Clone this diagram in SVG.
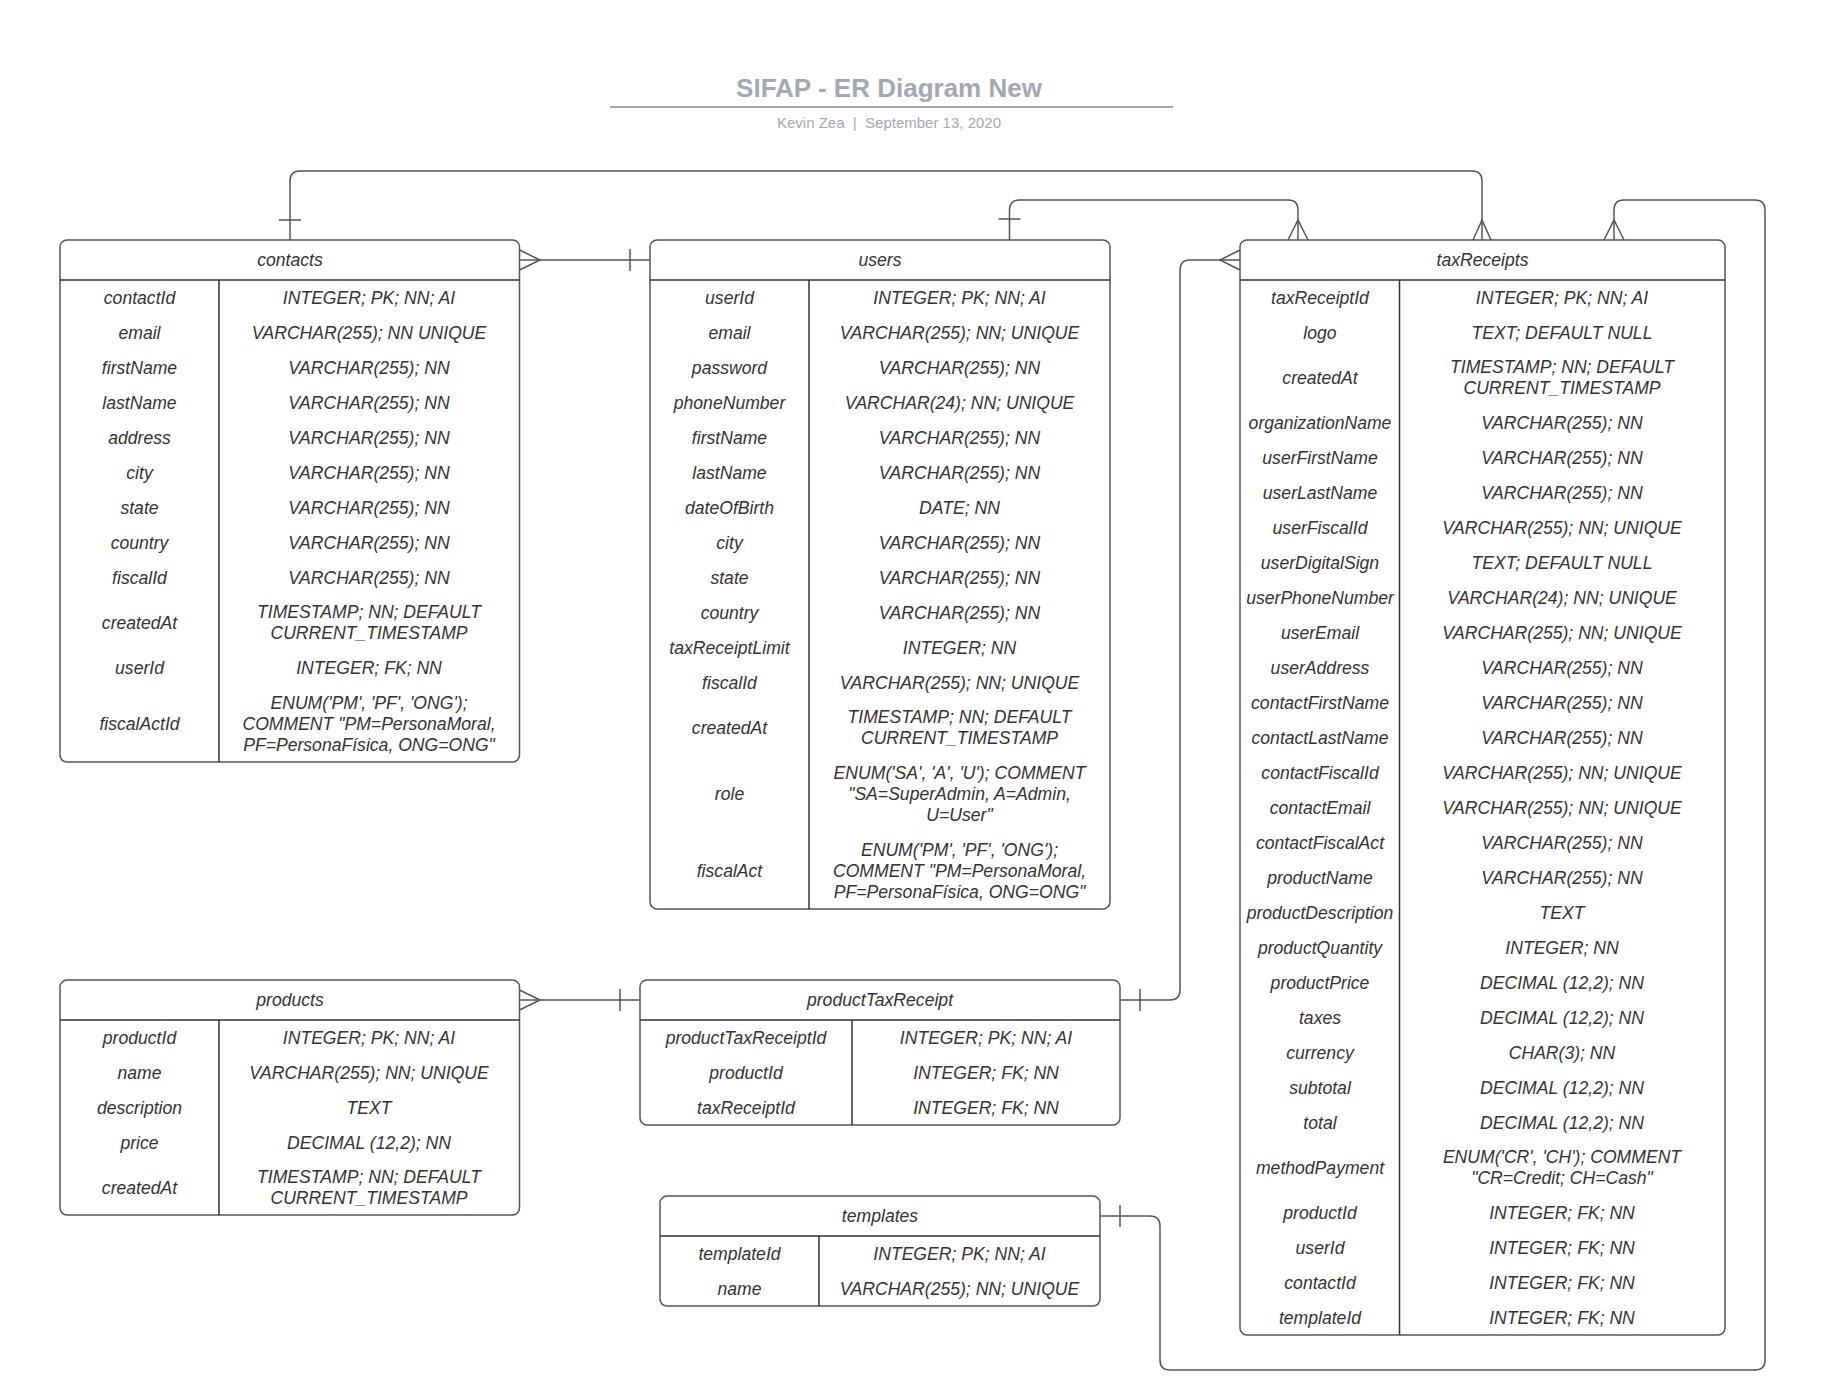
<svg xmlns="http://www.w3.org/2000/svg" width="1847" height="1398" viewBox="0 0 1847 1398">
<style>
.box{fill:#fff;stroke:#555;stroke-width:1.5}
.sep{stroke:#333;stroke-width:1.5;fill:none}
.t{font-family:"Liberation Sans",Arial,sans-serif;font-style:italic;font-size:17.6px;fill:#333;text-anchor:middle}
.con{fill:none;stroke:#555;stroke-width:1.5}
.title{font-family:"Liberation Sans",Arial,sans-serif;font-weight:bold;font-size:26px;fill:#a3a9b1;text-anchor:middle}
.sub{font-family:"Liberation Sans",Arial,sans-serif;font-size:15px;fill:#a3a9b1;text-anchor:middle}
</style>
<rect width="1847" height="1398" fill="#fff"/>
<g id="title">
<text class="title" x="889" y="97">SIFAP - ER Diagram New</text>
<line x1="610" y1="107" x2="1173" y2="107" stroke="#a0a6ae" stroke-width="2"/>
<text class="sub" x="889" y="128" xml:space="preserve">Kevin Zea  |  September 13, 2020</text>
</g>

<g id="connectors">
<path class="con" d="M290,240 V181 Q290,171 300,171 H1472 Q1482,171 1482,181 V240"/>
<path class="con" d="M279,220 H301"/>
<path class="con" d="M1473,240 L1482,220 L1491,240"/>

<path class="con" d="M1009.5,240 V210 Q1009.5,200 1019.5,200 H1288 Q1298,200 1298,210 V240"/>
<path class="con" d="M998.5,219 H1020.5"/>
<path class="con" d="M1288,240 L1298,220 L1308,240"/>

<path class="con" d="M519.5,260 H650"/>
<path class="con" d="M519.5,250 L540,260 L519.5,270"/>
<path class="con" d="M630,249 V271"/>

<path class="con" d="M519.5,1000 H640"/>
<path class="con" d="M519.5,990 L540,1000 L519.5,1010"/>
<path class="con" d="M620,989 V1011"/>

<path class="con" d="M1120,1000 H1170 Q1180,1000 1180,990 V270 Q1180,260 1190,260 H1240"/>
<path class="con" d="M1140,989 V1011"/>
<path class="con" d="M1240,250 L1220,260 L1240,270"/>

<path class="con" d="M1100,1216 H1150 Q1160,1216 1160,1226 V1360 Q1160,1370 1170,1370 H1755 Q1765,1370 1765,1360 V210 Q1765,200 1755,200 H1624 Q1614,200 1614,210 V240"/>
<path class="con" d="M1120,1205 V1227"/>
<path class="con" d="M1604,240 L1614,220 L1624,240"/>
</g>

<g id="contacts">
<rect class="box" x="60" y="240" width="459.5" height="522" rx="7"/>
<path class="sep" d="M60,280 H519.5 M219,280 V762"/>
<text class="t" x="290" y="266.3">contacts</text>
<text class="t" x="139.5" y="303.8">contactId</text><text class="t" x="369" y="303.8">INTEGER; PK; NN; AI</text>
<text class="t" x="139.5" y="338.8">email</text><text class="t" x="369" y="338.8">VARCHAR(255); NN UNIQUE</text>
<text class="t" x="139.5" y="373.8">firstName</text><text class="t" x="369" y="373.8">VARCHAR(255); NN</text>
<text class="t" x="139.5" y="408.8">lastName</text><text class="t" x="369" y="408.8">VARCHAR(255); NN</text>
<text class="t" x="139.5" y="443.8">address</text><text class="t" x="369" y="443.8">VARCHAR(255); NN</text>
<text class="t" x="139.5" y="478.8">city</text><text class="t" x="369" y="478.8">VARCHAR(255); NN</text>
<text class="t" x="139.5" y="513.8">state</text><text class="t" x="369" y="513.8">VARCHAR(255); NN</text>
<text class="t" x="139.5" y="548.8">country</text><text class="t" x="369" y="548.8">VARCHAR(255); NN</text>
<text class="t" x="139.5" y="583.8">fiscalId</text><text class="t" x="369" y="583.8">VARCHAR(255); NN</text>
<text class="t" x="139.5" y="628.8">createdAt</text><text class="t" x="369" y="618.3">TIMESTAMP; NN; DEFAULT</text><text class="t" x="369" y="639.3">CURRENT_TIMESTAMP</text>
<text class="t" x="139.5" y="673.8">userId</text><text class="t" x="369" y="673.8">INTEGER; FK; NN</text>
<text class="t" x="139.5" y="729.8">fiscalActId</text><text class="t" x="369" y="708.8">ENUM('PM', 'PF', 'ONG');</text><text class="t" x="369" y="729.8">COMMENT "PM=PersonaMoral,</text><text class="t" x="369" y="750.8">PF=PersonaFísica, ONG=ONG"</text>
</g>

<g id="users">
<rect class="box" x="650" y="240" width="460" height="669" rx="7"/>
<path class="sep" d="M650,280 H1110 M809,280 V909"/>
<text class="t" x="880" y="266.3">users</text>
<text class="t" x="729.5" y="303.8">userId</text><text class="t" x="959.5" y="303.8">INTEGER; PK; NN; AI</text>
<text class="t" x="729.5" y="338.8">email</text><text class="t" x="959.5" y="338.8">VARCHAR(255); NN; UNIQUE</text>
<text class="t" x="729.5" y="373.8">password</text><text class="t" x="959.5" y="373.8">VARCHAR(255); NN</text>
<text class="t" x="729.5" y="408.8">phoneNumber</text><text class="t" x="959.5" y="408.8">VARCHAR(24); NN; UNIQUE</text>
<text class="t" x="729.5" y="443.8">firstName</text><text class="t" x="959.5" y="443.8">VARCHAR(255); NN</text>
<text class="t" x="729.5" y="478.8">lastName</text><text class="t" x="959.5" y="478.8">VARCHAR(255); NN</text>
<text class="t" x="729.5" y="513.8">dateOfBirth</text><text class="t" x="959.5" y="513.8">DATE; NN</text>
<text class="t" x="729.5" y="548.8">city</text><text class="t" x="959.5" y="548.8">VARCHAR(255); NN</text>
<text class="t" x="729.5" y="583.8">state</text><text class="t" x="959.5" y="583.8">VARCHAR(255); NN</text>
<text class="t" x="729.5" y="618.8">country</text><text class="t" x="959.5" y="618.8">VARCHAR(255); NN</text>
<text class="t" x="729.5" y="653.8">taxReceiptLimit</text><text class="t" x="959.5" y="653.8">INTEGER; NN</text>
<text class="t" x="729.5" y="688.8">fiscalId</text><text class="t" x="959.5" y="688.8">VARCHAR(255); NN; UNIQUE</text>
<text class="t" x="729.5" y="733.8">createdAt</text><text class="t" x="959.5" y="723.3">TIMESTAMP; NN; DEFAULT</text><text class="t" x="959.5" y="744.3">CURRENT_TIMESTAMP</text>
<text class="t" x="729.5" y="799.8">role</text><text class="t" x="959.5" y="778.8">ENUM('SA', 'A', 'U'); COMMENT</text><text class="t" x="959.5" y="799.8">"SA=SuperAdmin, A=Admin,</text><text class="t" x="959.5" y="820.8">U=User"</text>
<text class="t" x="729.5" y="876.8">fiscalAct</text><text class="t" x="959.5" y="855.8">ENUM('PM', 'PF', 'ONG');</text><text class="t" x="959.5" y="876.8">COMMENT "PM=PersonaMoral,</text><text class="t" x="959.5" y="897.8">PF=PersonaFísica, ONG=ONG"</text>
</g>

<g id="taxReceipts">
<rect class="box" x="1240" y="240" width="485" height="1095" rx="7"/>
<path class="sep" d="M1240,280 H1725 M1399.5,280 V1335"/>
<text class="t" x="1482.5" y="266.3">taxReceipts</text>
<text class="t" x="1320" y="303.8">taxReceiptId</text><text class="t" x="1562" y="303.8">INTEGER; PK; NN; AI</text>
<text class="t" x="1320" y="338.8">logo</text><text class="t" x="1562" y="338.8">TEXT; DEFAULT NULL</text>
<text class="t" x="1320" y="383.8">createdAt</text><text class="t" x="1562" y="373.3">TIMESTAMP; NN; DEFAULT</text><text class="t" x="1562" y="394.3">CURRENT_TIMESTAMP</text>
<text class="t" x="1320" y="428.8">organizationName</text><text class="t" x="1562" y="428.8">VARCHAR(255); NN</text>
<text class="t" x="1320" y="463.8">userFirstName</text><text class="t" x="1562" y="463.8">VARCHAR(255); NN</text>
<text class="t" x="1320" y="498.8">userLastName</text><text class="t" x="1562" y="498.8">VARCHAR(255); NN</text>
<text class="t" x="1320" y="533.8">userFiscalId</text><text class="t" x="1562" y="533.8">VARCHAR(255); NN; UNIQUE</text>
<text class="t" x="1320" y="568.8">userDigitalSign</text><text class="t" x="1562" y="568.8">TEXT; DEFAULT NULL</text>
<text class="t" x="1320" y="603.8">userPhoneNumber</text><text class="t" x="1562" y="603.8">VARCHAR(24); NN; UNIQUE</text>
<text class="t" x="1320" y="638.8">userEmail</text><text class="t" x="1562" y="638.8">VARCHAR(255); NN; UNIQUE</text>
<text class="t" x="1320" y="673.8">userAddress</text><text class="t" x="1562" y="673.8">VARCHAR(255); NN</text>
<text class="t" x="1320" y="708.8">contactFirstName</text><text class="t" x="1562" y="708.8">VARCHAR(255); NN</text>
<text class="t" x="1320" y="743.8">contactLastName</text><text class="t" x="1562" y="743.8">VARCHAR(255); NN</text>
<text class="t" x="1320" y="778.8">contactFiscalId</text><text class="t" x="1562" y="778.8">VARCHAR(255); NN; UNIQUE</text>
<text class="t" x="1320" y="813.8">contactEmail</text><text class="t" x="1562" y="813.8">VARCHAR(255); NN; UNIQUE</text>
<text class="t" x="1320" y="848.8">contactFiscalAct</text><text class="t" x="1562" y="848.8">VARCHAR(255); NN</text>
<text class="t" x="1320" y="883.8">productName</text><text class="t" x="1562" y="883.8">VARCHAR(255); NN</text>
<text class="t" x="1320" y="918.8">productDescription</text><text class="t" x="1562" y="918.8">TEXT</text>
<text class="t" x="1320" y="953.8">productQuantity</text><text class="t" x="1562" y="953.8">INTEGER; NN</text>
<text class="t" x="1320" y="988.8">productPrice</text><text class="t" x="1562" y="988.8">DECIMAL (12,2); NN</text>
<text class="t" x="1320" y="1023.8">taxes</text><text class="t" x="1562" y="1023.8">DECIMAL (12,2); NN</text>
<text class="t" x="1320" y="1058.8">currency</text><text class="t" x="1562" y="1058.8">CHAR(3); NN</text>
<text class="t" x="1320" y="1093.8">subtotal</text><text class="t" x="1562" y="1093.8">DECIMAL (12,2); NN</text>
<text class="t" x="1320" y="1128.8">total</text><text class="t" x="1562" y="1128.8">DECIMAL (12,2); NN</text>
<text class="t" x="1320" y="1173.8">methodPayment</text><text class="t" x="1562" y="1163.3">ENUM('CR', 'CH'); COMMENT</text><text class="t" x="1562" y="1184.3">"CR=Credit; CH=Cash"</text>
<text class="t" x="1320" y="1218.8">productId</text><text class="t" x="1562" y="1218.8">INTEGER; FK; NN</text>
<text class="t" x="1320" y="1253.8">userId</text><text class="t" x="1562" y="1253.8">INTEGER; FK; NN</text>
<text class="t" x="1320" y="1288.8">contactId</text><text class="t" x="1562" y="1288.8">INTEGER; FK; NN</text>
<text class="t" x="1320" y="1323.8">templateId</text><text class="t" x="1562" y="1323.8">INTEGER; FK; NN</text>
</g>

<g id="products">
<rect class="box" x="60" y="980" width="459.5" height="235" rx="7"/>
<path class="sep" d="M60,1020 H519.5 M219,1020 V1215"/>
<text class="t" x="290" y="1006.3">products</text>
<text class="t" x="139.5" y="1043.8">productId</text><text class="t" x="369" y="1043.8">INTEGER; PK; NN; AI</text>
<text class="t" x="139.5" y="1078.8">name</text><text class="t" x="369" y="1078.8">VARCHAR(255); NN; UNIQUE</text>
<text class="t" x="139.5" y="1113.8">description</text><text class="t" x="369" y="1113.8">TEXT</text>
<text class="t" x="139.5" y="1148.8">price</text><text class="t" x="369" y="1148.8">DECIMAL (12,2); NN</text>
<text class="t" x="139.5" y="1193.8">createdAt</text><text class="t" x="369" y="1183.3">TIMESTAMP; NN; DEFAULT</text><text class="t" x="369" y="1204.3">CURRENT_TIMESTAMP</text>
</g>

<g id="productTaxReceipt">
<rect class="box" x="640" y="980" width="480" height="145" rx="7"/>
<path class="sep" d="M640,1020 H1120 M852,1020 V1125"/>
<text class="t" x="880" y="1006.3">productTaxReceipt</text>
<text class="t" x="746" y="1043.8">productTaxReceiptId</text><text class="t" x="986" y="1043.8">INTEGER; PK; NN; AI</text>
<text class="t" x="746" y="1078.8">productId</text><text class="t" x="986" y="1078.8">INTEGER; FK; NN</text>
<text class="t" x="746" y="1113.8">taxReceiptId</text><text class="t" x="986" y="1113.8">INTEGER; FK; NN</text>
</g>

<g id="templates">
<rect class="box" x="660" y="1196" width="440" height="110" rx="7"/>
<path class="sep" d="M660,1236 H1100 M819,1236 V1306"/>
<text class="t" x="880" y="1222.3">templates</text>
<text class="t" x="739.5" y="1259.8">templateId</text><text class="t" x="959.5" y="1259.8">INTEGER; PK; NN; AI</text>
<text class="t" x="739.5" y="1294.8">name</text><text class="t" x="959.5" y="1294.8">VARCHAR(255); NN; UNIQUE</text>
</g>
</svg>
